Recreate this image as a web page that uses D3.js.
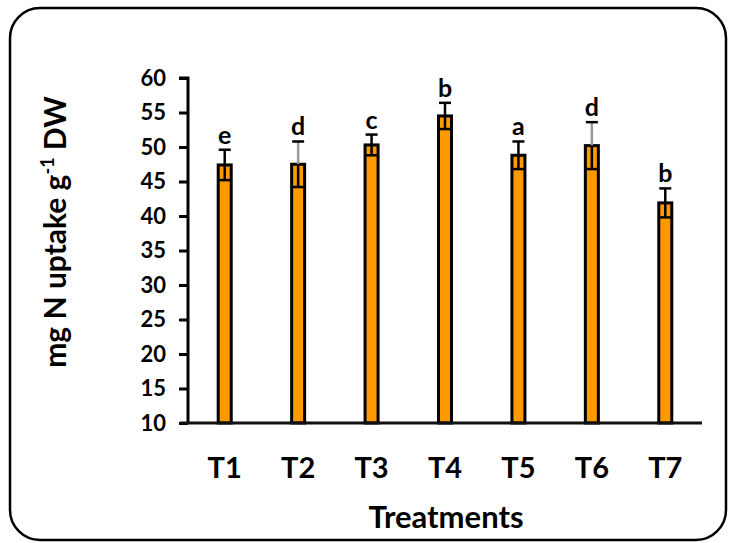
<!DOCTYPE html>
<html>
<head>
<meta charset="utf-8">
<script src="https://cdn.jsdelivr.net/npm/d3@7/dist/d3.min.js"></script>
<style>
  html, body { margin: 0; padding: 0; background: #fff; }
  svg { display: block; }
  text { font-family: Lato, "Open Sans", sans-serif; font-weight: 700; fill: #000; }
</style>
</head>
<body>
<svg id="chart" width="730" height="543"></svg>
<script>
const categories = ["T1", "T2", "T3", "T4", "T5", "T6", "T7"];
const values = [47.4, 47.5, 50.3, 54.5, 48.8, 50.2, 41.9];
const errors = [2.2, 3.3, 1.5, 1.9, 2.0, 3.4, 2.1];
const letters = ["e", "d", "c", "b", "a", "d", "b"];
const yTicks = [10, 15, 20, 25, 30, 35, 40, 45, 50, 55, 60];
const grayWhisker = ["T2", "T6"];

const svg = d3.select("#chart");

// rounded frame
svg.append("rect")
  .attr("x", 10).attr("y", 8).attr("width", 716).attr("height", 532)
  .attr("rx", 30).attr("ry", 30)
  .attr("fill", "none").attr("stroke", "#000").attr("stroke-width", 2.5);

const x = d3.scaleBand().domain(categories).range([188, 702]).paddingInner(0).paddingOuter(0);
const y = d3.scaleLinear().domain([10, 60]).range([423, 78]);

const barW = 13;

// bars
svg.selectAll("rect.bar").data(categories).enter().append("rect")
  .attr("class", "bar")
  .attr("x", d => x(d) + x.bandwidth() / 2 - barW / 2)
  .attr("y", (d, i) => y(values[i]))
  .attr("width", barW)
  .attr("height", (d, i) => y(10) - y(values[i]))
  .attr("fill", "#FF9900")
  .attr("stroke", "#000")
  .attr("stroke-width", 3);

// error bars
const eg = svg.append("g");
categories.forEach((c, i) => {
  const cx = x(c) + x.bandwidth() / 2;
  const top = y(values[i] + errors[i]);
  const bot = y(values[i] - errors[i]);
  const mid = y(values[i]);
  const col = grayWhisker.includes(c) ? "#999" : "#000";
  eg.append("line").attr("x1", cx).attr("x2", cx).attr("y1", top).attr("y2", mid)
    .attr("stroke", col).attr("stroke-width", 2.5);
  eg.append("line").attr("x1", cx).attr("x2", cx).attr("y1", mid).attr("y2", bot)
    .attr("stroke", "#000").attr("stroke-width", 2.5);
  eg.append("line").attr("x1", cx - 6).attr("x2", cx + 6).attr("y1", top).attr("y2", top)
    .attr("stroke", "#000").attr("stroke-width", 2.5);
  eg.append("line").attr("x1", cx - 6).attr("x2", cx + 6).attr("y1", bot).attr("y2", bot)
    .attr("stroke", "#000").attr("stroke-width", 2.5);
  eg.append("text").attr("x", cx).attr("y", top - 6)
    .attr("text-anchor", "middle").attr("font-size", 25).text(letters[i]);
});

// y axis
const yAxis = d3.axisLeft(y).tickValues(yTicks).tickSize(9).tickPadding(13).tickFormat(d3.format("d"));
const ya = svg.append("g").attr("transform", "translate(188,0)").call(yAxis);
ya.select(".domain").attr("stroke", "#000").attr("stroke-width", 3).attr("d", "M-9,78H0V423");
ya.selectAll(".tick line").attr("stroke", "#000").attr("stroke-width", 3);
ya.selectAll(".tick text").attr("font-size", 22).attr("font-family", "Lato, sans-serif").attr("font-weight", 700).attr("fill", "#000");

// x axis
const xAxis = d3.axisBottom(x).tickSize(0).tickPadding(34);
const xa = svg.append("g").attr("transform", "translate(0,423)").call(xAxis);
xa.select(".domain").attr("stroke", "#111").attr("stroke-width", 3).attr("d", "M180,0H702");
xa.selectAll(".tick text").attr("font-size", 29).attr("font-family", "Lato, sans-serif").attr("font-weight", 700).attr("fill", "#000");

// axis titles
svg.append("text").attr("x", 446).attr("y", 528).attr("text-anchor", "middle")
  .attr("font-size", 31).text("Treatments");

const yt = svg.append("text").attr("transform", "translate(66,232) rotate(-90)")
  .attr("text-anchor", "middle").attr("font-size", 30);
yt.append("tspan").text("mg N uptake g");
yt.append("tspan").attr("font-size", 18).attr("dy", -12).text("-1");
yt.append("tspan").attr("dy", 12).text(" DW");
</script>
</body>
</html>
